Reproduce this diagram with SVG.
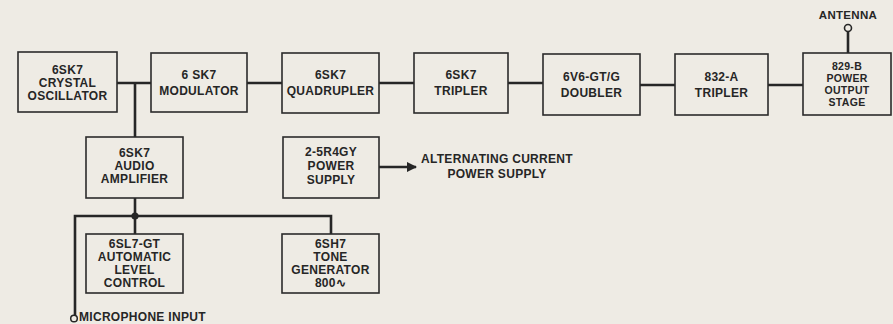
<svg xmlns="http://www.w3.org/2000/svg" width="893" height="324" viewBox="0 0 893 324">
<style>
.bg{fill:#eeebe4}
.box{fill:none;stroke:#2b2b2b;stroke-width:1.6}
.wire{fill:none;stroke:#262626;stroke-width:2.6}
text{font-family:"Liberation Sans",Arial,sans-serif;font-weight:bold;font-size:12px;fill:#262626;text-anchor:middle;letter-spacing:0.3px}
.sm{font-size:10.5px}
.lbl{text-anchor:start}
</style>
<defs>
<marker id="arr" viewBox="0 0 10 10" refX="9" refY="5" markerWidth="4" markerHeight="4" orient="auto" markerUnits="strokeWidth">
<path d="M0,0 L10,5 L0,10 z" fill="#262626"/>
</marker>
</defs>
<rect class="bg" x="0" y="0" width="893" height="324"/>

<g id="connectors">
<path class="wire" d="M117,83 H151"/>
<path class="wire" d="M135,83 V137"/>
<path class="wire" d="M247,83 H282"/>
<path class="wire" d="M379,83 H414"/>
<path class="wire" d="M508,83 H543"/>
<path class="wire" d="M640,85 H675"/>
<path class="wire" d="M768,85 H803"/>
<path class="wire" d="M848,31.5 V53"/>
<path class="wire" d="M135,198 V234"/>
<path class="wire" d="M75,315 V216 H331 V234"/>
<circle cx="135" cy="216" r="3.6" fill="#262626"/>
<path class="wire" d="M379,167 H416" marker-end="url(#arr)"/>
<circle cx="848" cy="28" r="3.5" fill="none" stroke="#262626" stroke-width="1.6"/>
<circle cx="74" cy="318.5" r="3.3" fill="none" stroke="#262626" stroke-width="1.5"/>
</g>

<g id="crystal-oscillator">
<rect class="box" x="18" y="52" width="99" height="60"/>
<text x="67.5" y="74">6SK7</text>
<text x="67.5" y="87">CRYSTAL</text>
<text x="67.5" y="99.5">OSCILLATOR</text>
</g>
<g id="modulator">
<rect class="box" x="151" y="53" width="96" height="59"/>
<text x="199" y="78.5">6 SK7</text>
<text x="199" y="95">MODULATOR</text>
</g>
<g id="quadrupler">
<rect class="box" x="282" y="53" width="97" height="60"/>
<text x="330.5" y="79">6SK7</text>
<text x="330.5" y="95">QUADRUPLER</text>
</g>
<g id="tripler-6sk7">
<rect class="box" x="414" y="53" width="94" height="60"/>
<text x="461" y="79">6SK7</text>
<text x="461" y="95">TRIPLER</text>
</g>
<g id="doubler">
<rect class="box" x="543" y="54" width="97" height="61"/>
<text x="591.5" y="81">6V6-GT/G</text>
<text x="591.5" y="96.5">DOUBLER</text>
</g>
<g id="tripler-832a">
<rect class="box" x="675" y="54" width="93" height="61"/>
<text x="721.5" y="81">832-A</text>
<text x="721.5" y="96.5">TRIPLER</text>
</g>
<g id="power-output-stage">
<rect class="box" x="803" y="53" width="88" height="62"/>
<text class="sm" x="847" y="69.5">829-B</text>
<text class="sm" x="847" y="81.5">POWER</text>
<text class="sm" x="847" y="93.5">OUTPUT</text>
<text class="sm" x="847" y="105.5">STAGE</text>
</g>
<g id="antenna">
<text x="848" y="19" style="font-size:11.5px">ANTENNA</text>
</g>
<g id="audio-amplifier">
<rect class="box" x="86" y="137" width="97" height="61"/>
<text x="134.5" y="157">6SK7</text>
<text x="134.5" y="170">AUDIO</text>
<text x="134.5" y="183">AMPLIFIER</text>
</g>
<g id="power-supply">
<rect class="box" x="283" y="137" width="96" height="61"/>
<text x="331" y="155.5">2-5R4GY</text>
<text x="331" y="170">POWER</text>
<text x="331" y="184">SUPPLY</text>
</g>
<g id="ac-power-supply">
<text x="497" y="163">ALTERNATING CURRENT</text>
<text x="497" y="178">POWER SUPPLY</text>
</g>
<g id="automatic-level-control">
<rect class="box" x="86" y="234" width="97" height="59"/>
<text x="134.5" y="247.5">6SL7-GT</text>
<text x="134.5" y="260.5">AUTOMATIC</text>
<text x="134.5" y="273.5">LEVEL</text>
<text x="134.5" y="286.5">CONTROL</text>
</g>
<g id="tone-generator">
<rect class="box" x="282" y="234" width="97" height="59"/>
<text x="330.5" y="247.5">6SH7</text>
<text x="330.5" y="260.5">TONE</text>
<text x="330.5" y="273.5">GENERATOR</text>
<text x="330.5" y="286.5">800∿</text>
</g>
<g id="microphone-input">
<text class="lbl" x="79" y="321">MICROPHONE INPUT</text>
</g>
</svg>
